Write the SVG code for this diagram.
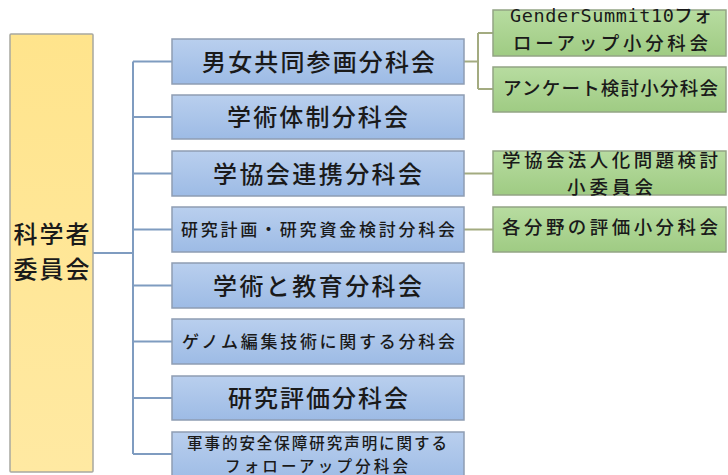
<svg xmlns="http://www.w3.org/2000/svg" width="728" height="475" viewBox="0 0 728 475">
<defs>
<linearGradient id="gBlue" x1="0" y1="0" x2="0" y2="1"><stop offset="0" stop-color="#b9cfee"/><stop offset="1" stop-color="#9dbbe5"/></linearGradient>
<linearGradient id="gGreen" x1="0" y1="0" x2="0" y2="1"><stop offset="0" stop-color="#b7dca0"/><stop offset="1" stop-color="#9fcb83"/></linearGradient>
<linearGradient id="gYellow" x1="0" y1="0" x2="0" y2="1"><stop offset="0" stop-color="#ffe48c"/><stop offset="1" stop-color="#ffe9a2"/></linearGradient>
</defs>
<style>
text{font-family:"Noto Sans CJK JP","Noto Sans CJK SC",sans-serif;fill:#1a1a1a;font-weight:500;}
.blue{fill:url(#gBlue);stroke:#8e9db3;stroke-width:1.5;}
.green{fill:url(#gGreen);stroke:#93a484;stroke-width:1.5;}
.yellow{fill:url(#gYellow);stroke:#a8a8a0;stroke-width:1.5;}
.big{font-size:24px;}
.small{font-size:17px;}
.gt{font-size:18.5px;}
.cb{fill:none;stroke:#7f9cc0;stroke-width:2;}
.cg{fill:none;stroke:#a3ab80;stroke-width:2;}
.mono{font-family:"DejaVu Sans Mono","Liberation Mono",monospace;}
</style>
<rect width="728" height="475" fill="#ffffff"/>
<g id="connectors">
<path class="cb" d="M93,253 H133 M133,61.5 V454 M133,61.5 H172 M133,117 H172 M133,173.5 H172 M133,229.5 H172 M133,285.5 H172 M133,341.5 H172 M133,398 H172 M133,454 H172"/>
<path class="cg" d="M464,61.5 H478 M478,33 V89 M478,33 H493 M478,89 H493 M464,173.5 H493 M464,229.5 H493"/>
</g>
<g id="n-kagakusha">
<rect class="yellow" x="10" y="34" width="83" height="438" rx="1"/>
<text style="font-size:24px" x="13.5" y="243" textLength="76" lengthAdjust="spacing">科学者</text>
<text style="font-size:24px" x="13.5" y="278" textLength="76" lengthAdjust="spacing">委員会</text>
</g>
<g id="n-danjo">
<rect class="blue" x="172" y="39" width="292" height="45"/>
<text class="big" x="202" y="70.5" textLength="233" lengthAdjust="spacing">男女共同参画分科会</text>
</g>
<g id="n-gakujutsutaisei">
<rect class="blue" x="172" y="95" width="292" height="44"/>
<text class="big" x="227" y="126" textLength="181" lengthAdjust="spacing">学術体制分科会</text>
</g>
<g id="n-gakkyoukai">
<rect class="blue" x="172" y="151" width="292" height="45"/>
<text class="big" x="213" y="182.5" textLength="209" lengthAdjust="spacing">学協会連携分科会</text>
</g>
<g id="n-kenkyukeikaku">
<rect class="blue" x="172" y="207" width="292" height="45"/>
<text class="small" x="181" y="236" textLength="274" lengthAdjust="spacing">研究計画・研究資金検討分科会</text>
</g>
<g id="n-kyouiku">
<rect class="blue" x="172" y="263" width="292" height="45"/>
<text class="big" x="213" y="294.5" textLength="209" lengthAdjust="spacing">学術と教育分科会</text>
</g>
<g id="n-genome">
<rect class="blue" x="172" y="319" width="292" height="45"/>
<text class="small" x="182" y="348" textLength="273" lengthAdjust="spacing">ゲノム編集技術に関する分科会</text>
</g>
<g id="n-hyouka">
<rect class="blue" x="172" y="376" width="292" height="44"/>
<text class="big" x="228" y="407" textLength="180" lengthAdjust="spacing">研究評価分科会</text>
</g>
<g id="n-gunji">
<rect class="blue" x="172" y="432" width="292" height="50"/>
<text style="font-size:15.5px" x="187" y="449" textLength="260" lengthAdjust="spacing">軍事的安全保障研究声明に関する</text>
<text style="font-size:15.5px" x="225" y="471.5" textLength="183" lengthAdjust="spacing">フォローアップ分科会</text>
</g>
<g id="n-gendersummit">
<rect class="green" x="493" y="10" width="233" height="46"/>
<text class="gt" x="510" y="22" textLength="202" lengthAdjust="spacing"><tspan class="mono">GenderSummit10</tspan>フォ</text>
<text class="gt" x="513" y="50" textLength="195" lengthAdjust="spacing">ローアップ小分科会</text>
</g>
<g id="n-enquete">
<rect class="green" x="493" y="67" width="233" height="45"/>
<text class="gt" x="503" y="95" textLength="215" lengthAdjust="spacing">アンケート検討小分科会</text>
</g>
<g id="n-houjinka">
<rect class="green" x="493" y="151" width="233" height="44"/>
<text class="gt" x="502" y="167" textLength="216" lengthAdjust="spacing">学協会法人化問題検討</text>
<text class="gt" x="567" y="194" textLength="86" lengthAdjust="spacing">小委員会</text>
</g>
<g id="n-kakubunya">
<rect class="green" x="493" y="207" width="233" height="45"/>
<text class="gt" x="502" y="234" textLength="216" lengthAdjust="spacing">各分野の評価小分科会</text>
</g>
</svg>
